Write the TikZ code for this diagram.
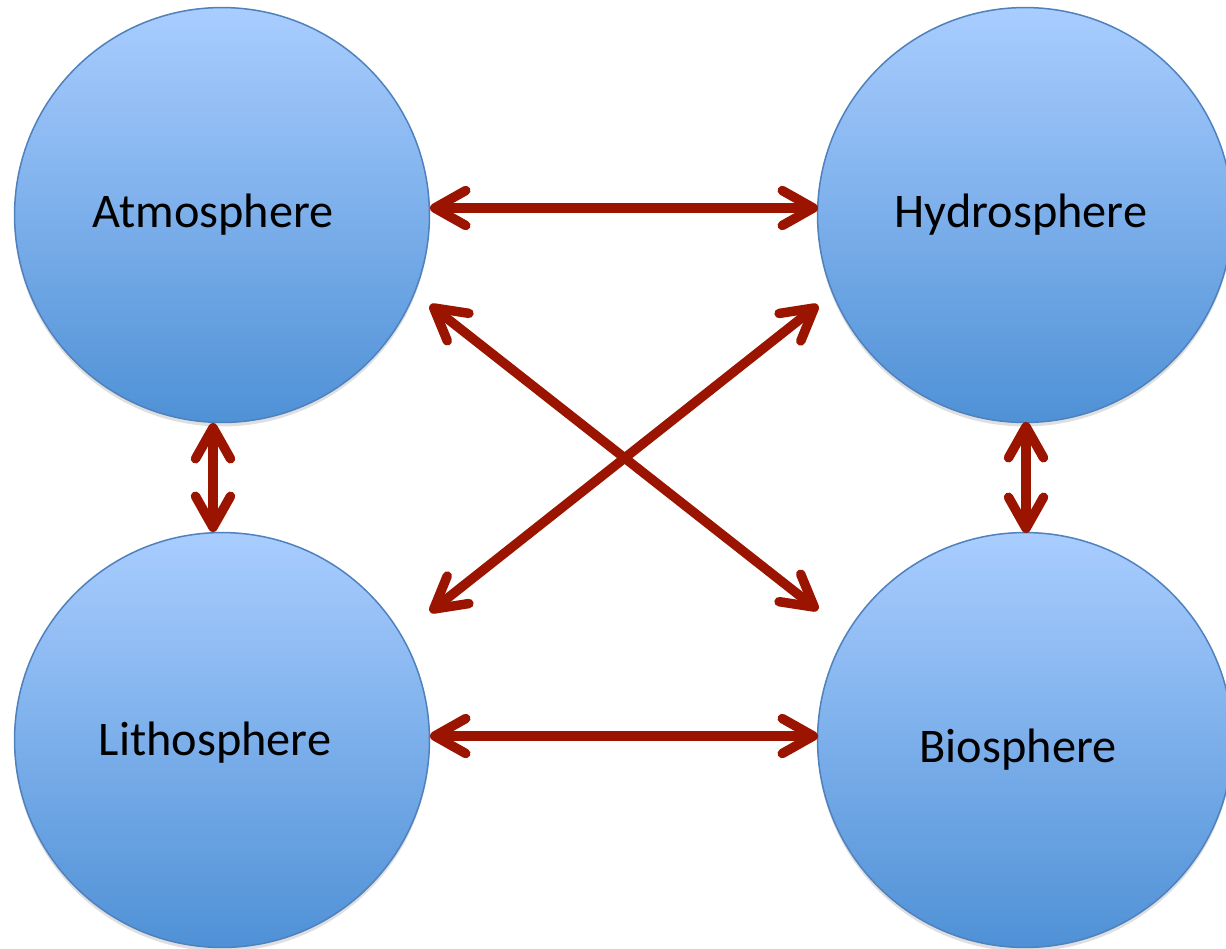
\documentclass[tikz,border=0pt]{standalone}
\usepackage{fontspec}
\setmainfont{Carlito}
\usetikzlibrary{arrows.meta,shadows}
\definecolor{ctop}{HTML}{A9CDFF}
\definecolor{cbot}{HTML}{4F91D6}
\definecolor{cedge}{HTML}{4F81BD}
\definecolor{arr}{HTML}{9A1400}
\begin{document}
\begin{tikzpicture}[x=0.02cm,y=-0.02cm,
  sphere/.style={circle, minimum size=8.3cm, inner sep=0pt, draw=cedge, line width=0.03cm,
    top color=ctop, bottom color=cbot,
    drop shadow={opacity=0.25, shadow xshift=0cm, shadow yshift=-0.08cm}},
  lbl/.style={anchor=base, font=\fontsize{27.5}{30}\selectfont, text=black},
  link/.style={draw=arr, line width=0.19cm,
    {Straight Barb[length=0.62cm,width=0.7cm,round]}-{Straight Barb[length=0.62cm,width=0.7cm,round]}}]
\useasboundingbox (0,0) rectangle (1226,948);
\fill[white] (0,0) rectangle (1226,948);
% spheres
\node[sphere] (atm) at (222,215) {};
\node[sphere] (hyd) at (1025,215) {};
\node[sphere] (lit) at (222,740) {};
\node[sphere] (bio) at (1025,740) {};
% labels
\node[lbl] (atmT) at (213,227) {Atmosphere};
\node[lbl] (hydT) at (1021,227) {Hydrosphere};
\node[lbl] (litT) at (215,755) {Lithosphere};
\node[lbl] (bioT) at (1018,762) {Biosphere};
% arrow end points
\coordinate (atmE) at (430,208);
\coordinate (hydW) at (818,208);
\coordinate (litE) at (430,736);
\coordinate (bioW) at (818,736);
\coordinate (atmS) at (213,423);
\coordinate (litN) at (213,532);
\coordinate (hydS) at (1026,422);
\coordinate (bioN) at (1026,533);
\coordinate (atmSE) at (430,305);
\coordinate (bioNW) at (818,610);
\coordinate (litNE) at (430,612);
\coordinate (hydSW) at (818,305);
% connectors
\draw[link] (atmE) -- (hydW);
\draw[link] (litE) -- (bioW);
\draw[link] (atmS) -- (litN);
\draw[link] (hydS) -- (bioN);
\draw[link] (atmSE) -- (bioNW);
\draw[link] (litNE) -- (hydSW);
\end{tikzpicture}
\end{document}
